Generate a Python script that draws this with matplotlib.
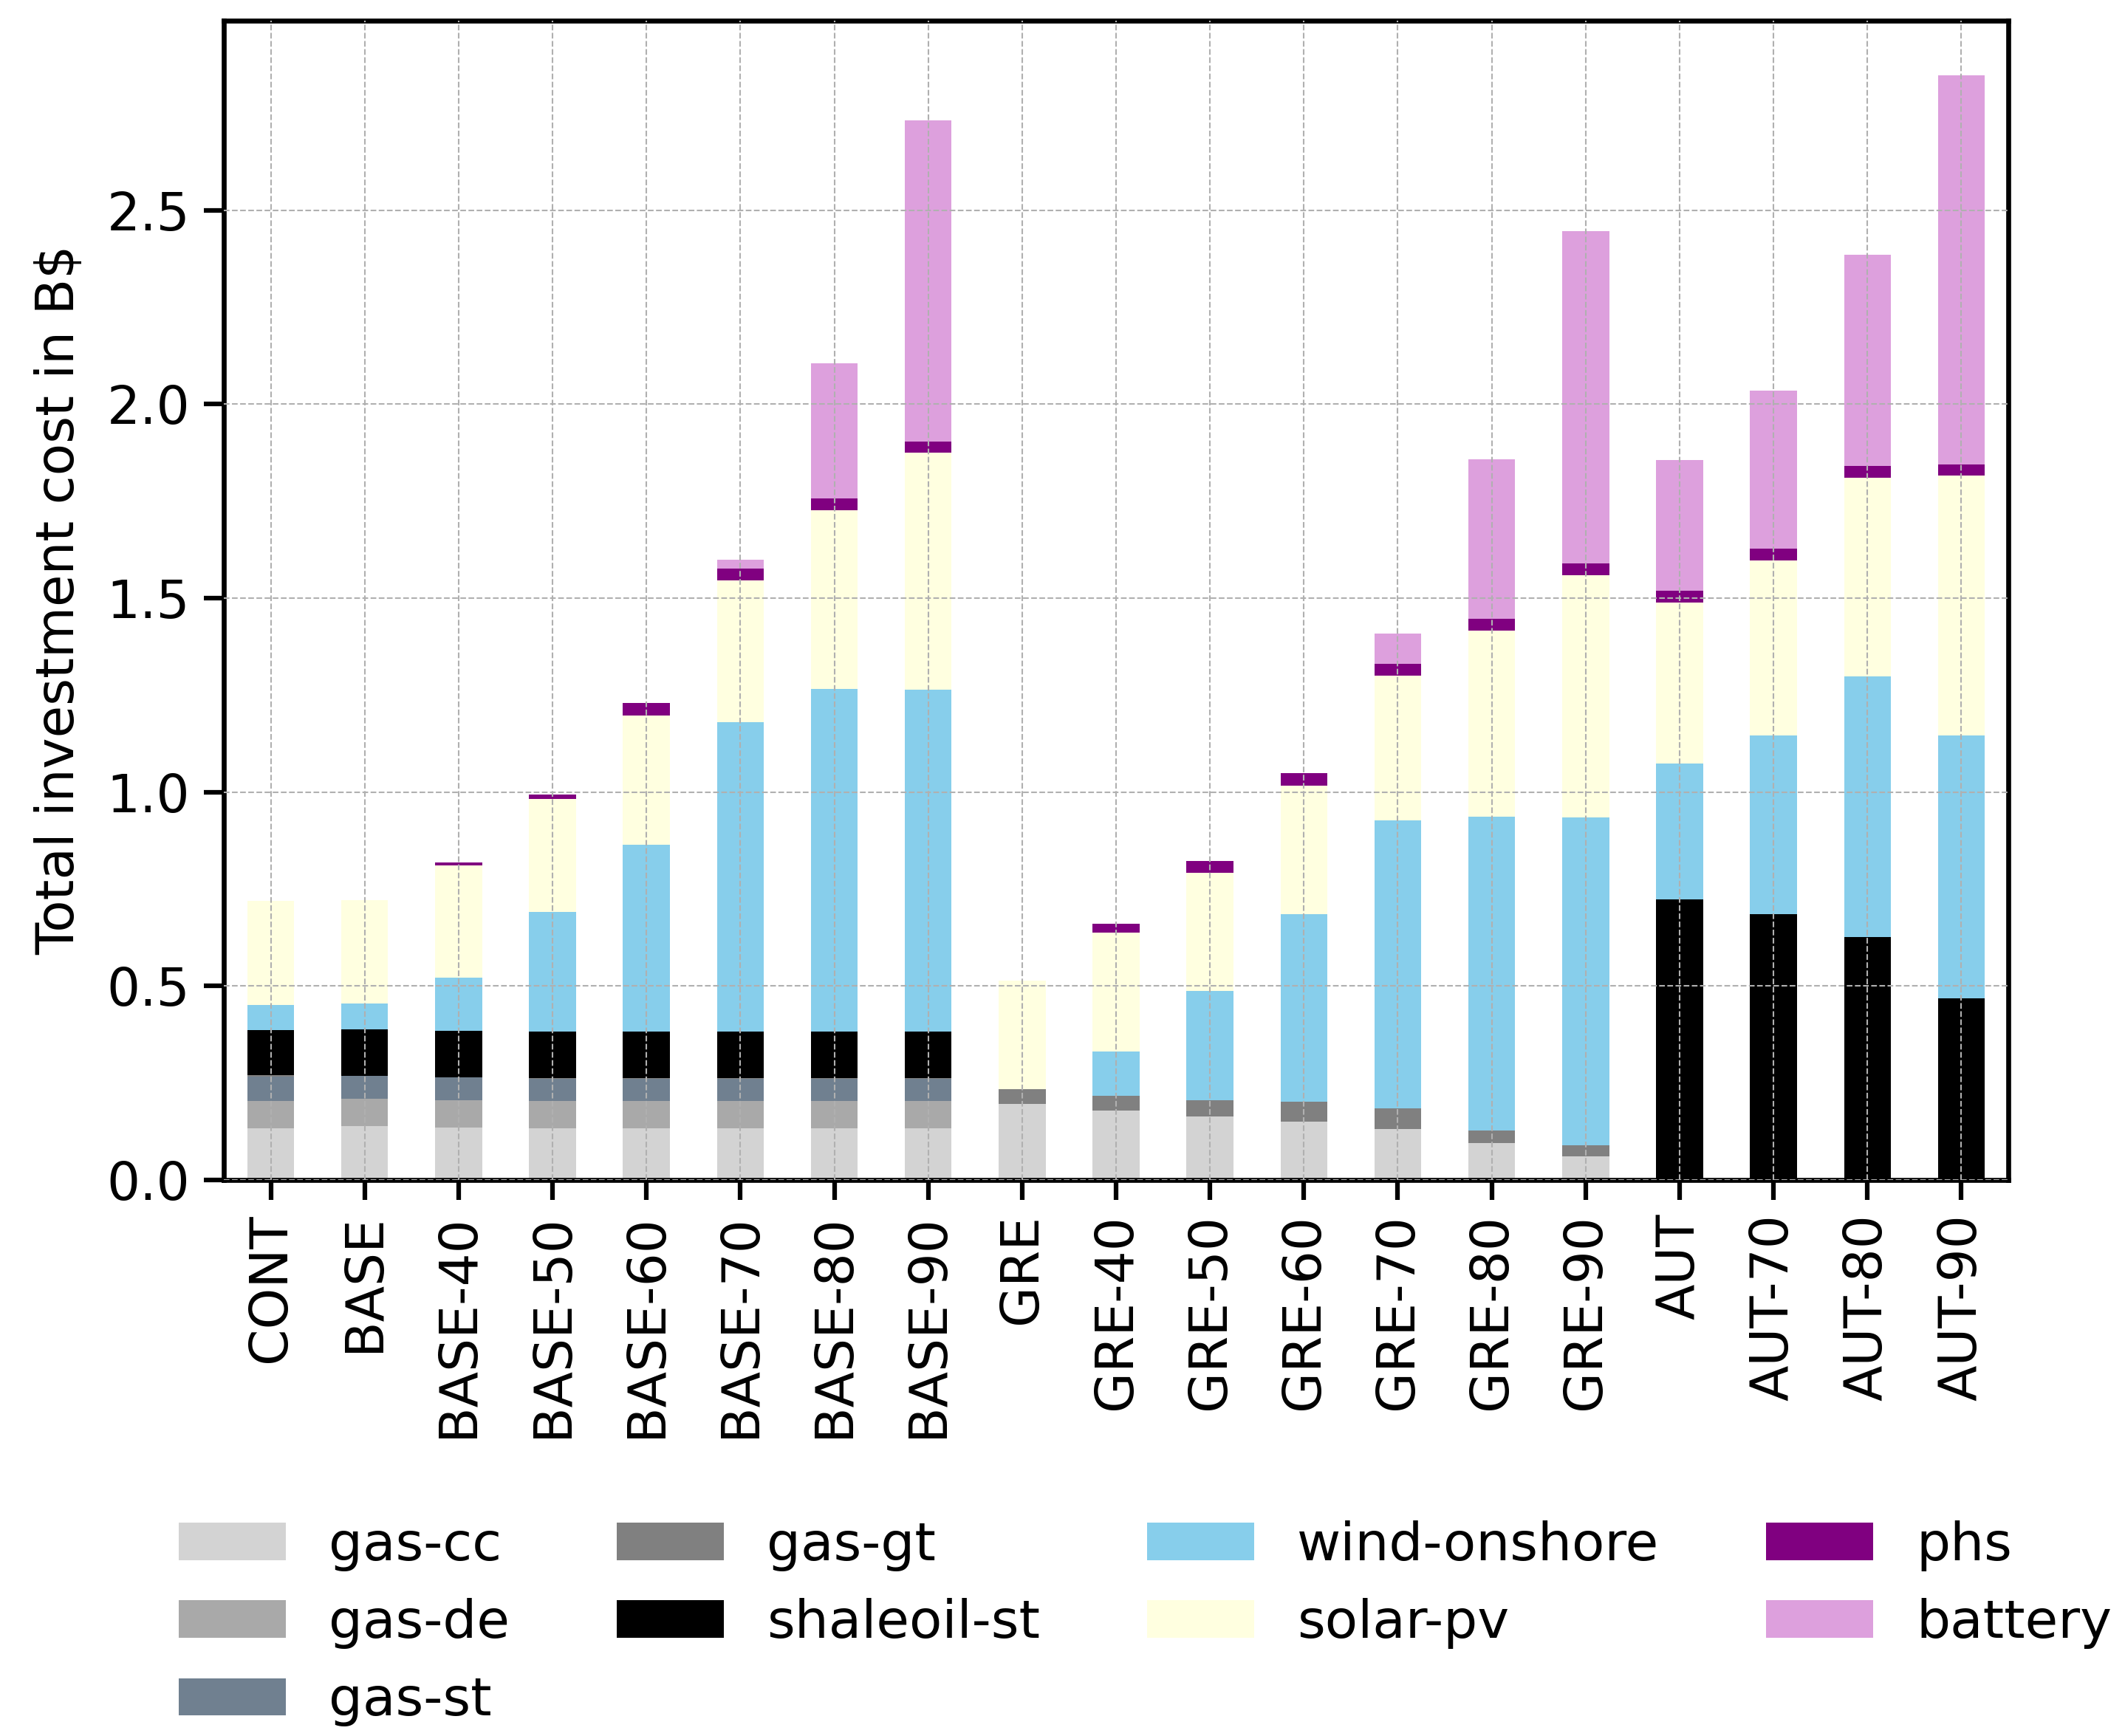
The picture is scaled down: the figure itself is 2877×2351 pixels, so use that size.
import numpy as np
import pandas as pd
import matplotlib
matplotlib.use("Agg")
import matplotlib.pyplot as plt

# scenario names (x axis)
SCENARIOS = ["CONT", "BASE", "BASE-40", "BASE-50", "BASE-60", "BASE-70", "BASE-80", "BASE-90",
             "GRE", "GRE-40", "GRE-50", "GRE-60", "GRE-70", "GRE-80", "GRE-90",
             "AUT", "AUT-70", "AUT-80", "AUT-90"]

# investment cost per technology in B$ (segment heights)
gas_cc = [0.133, 0.138, 0.135, 0.133, 0.133, 0.133, 0.133, 0.133,
          0.196, 0.179, 0.163, 0.150, 0.131, 0.096, 0.060,
          0.0, 0.0, 0.0, 0.0]
gas_de = [0.071, 0.072, 0.071, 0.071, 0.071, 0.071, 0.071, 0.071,
          0.0, 0.0, 0.0, 0.0, 0.0, 0.0, 0.0,
          0.0, 0.0, 0.0, 0.0]
gas_st = [0.063, 0.059, 0.059, 0.057, 0.057, 0.057, 0.057, 0.057,
          0.0, 0.0, 0.0, 0.0, 0.0, 0.0, 0.0,
          0.0, 0.0, 0.0, 0.0]
gas_gt = [0.004, 0.0, 0.0, 0.002, 0.002, 0.002, 0.002, 0.002,
          0.039, 0.038, 0.043, 0.052, 0.054, 0.031, 0.030,
          0.0, 0.0, 0.0, 0.0]
shaleoil_st = [0.116, 0.119, 0.120, 0.120, 0.120, 0.120, 0.120, 0.120,
               0.0, 0.0, 0.0, 0.0, 0.0, 0.0, 0.0,
               0.723, 0.685, 0.626, 0.469]
wind_onshore = [0.065, 0.066, 0.136, 0.308, 0.481, 0.797, 0.882, 0.880,
                0.0, 0.114, 0.281, 0.483, 0.741, 0.810, 0.845,
                0.351, 0.461, 0.672, 0.677]
solar_pv = [0.268, 0.268, 0.290, 0.291, 0.333, 0.365, 0.461, 0.612,
            0.278, 0.306, 0.304, 0.332, 0.374, 0.479, 0.624,
            0.415, 0.451, 0.513, 0.670]
phs = [0.0, 0.0, 0.007, 0.011, 0.032, 0.031, 0.030, 0.028,
       0.0, 0.023, 0.032, 0.032, 0.030, 0.031, 0.031,
       0.030, 0.030, 0.030, 0.029]
battery = [0.0, 0.0, 0.0, 0.0, 0.0, 0.022, 0.349, 0.828,
           0.0, 0.0, 0.0, 0.0, 0.079, 0.411, 0.855,
           0.337, 0.408, 0.544, 1.002]

TECHS = ["gas-cc", "gas-de", "gas-st", "gas-gt", "shaleoil-st",
         "wind-onshore", "solar-pv", "phs", "battery"]
COLORS = ["lightgray", "darkgray", "slategray", "gray", "black",
          "skyblue", "lightyellow", "purple", "plum"]


def main():
    plt.rcParams["font.family"] = ["DejaVu Sans"]
    plt.rcParams["font.size"] = 17

    df = pd.DataFrame({
        "gas-cc": gas_cc, "gas-de": gas_de, "gas-st": gas_st, "gas-gt": gas_gt,
        "shaleoil-st": shaleoil_st, "wind-onshore": wind_onshore,
        "solar-pv": solar_pv, "phs": phs, "battery": battery,
    }, index=SCENARIOS)[TECHS]

    fig = plt.figure(figsize=(2877 / 300, 2351 / 300), dpi=300)
    ax = fig.add_axes([0.1053, 0.3203, 0.8398, 0.668])

    df.plot.bar(stacked=True, ax=ax, color=COLORS, legend=False, width=0.5)

    ax.set_ylabel("Total investment cost in B$", fontsize=17, labelpad=7)
    ax.set_xlabel("")
    ax.tick_params(axis="both", labelsize=17, length=6.5, width=1.5, pad=4.5)
    for lbl in ax.get_xticklabels():
        lbl.set_rotation(90)
    for s in ax.spines.values():
        s.set_linewidth(1.6)

    # dashed grid drawn over the bars, as in the original
    ax.grid(True, linestyle="--", linewidth=0.5, color="#b0b0b0")
    ax.set_axisbelow(False)

    handles, labels = ax.get_legend_handles_labels()
    fig.legend(handles, labels, loc="upper center", bbox_to_anchor=(0.539, 0.152),
               ncol=4, frameon=False, fontsize=17.4)

    fig.savefig("out.png", dpi=300)
    plt.close(fig)


if __name__ == "__main__":
    main()
